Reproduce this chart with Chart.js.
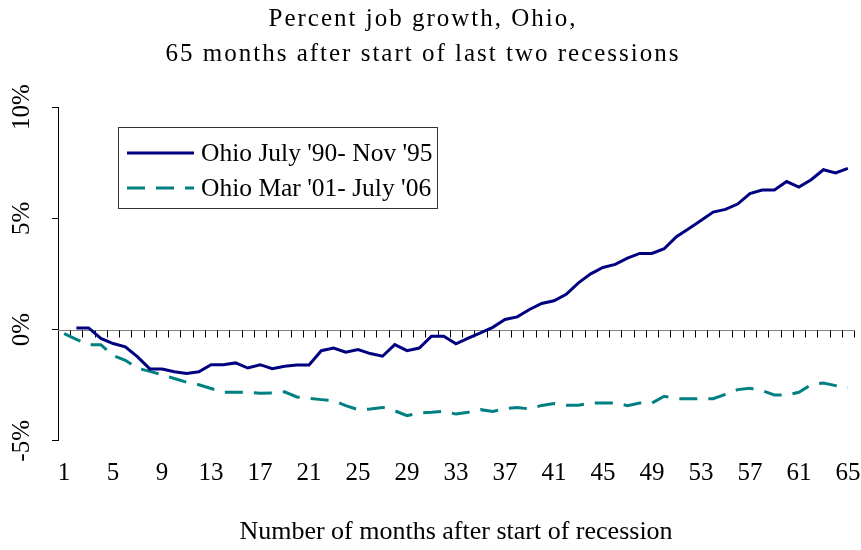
<!DOCTYPE html>
<html>
<head>
<meta charset="utf-8">
<script src="https://cdn.jsdelivr.net/npm/chart.js@4.4.1/dist/chart.umd.min.js"></script>
<style>
  html, body { margin: 0; padding: 0; background: #fff; }
  #wrap { width: 861px; height: 550px; }
</style>
</head>
<body>
<div id="wrap"><canvas id="chart"></canvas></div>
<script>
// Months after start of recession
const months = [1, 2, 3, 4, 5, 6, 7, 8, 9, 10, 11, 12, 13, 14, 15, 16, 17, 18, 19, 20,
  21, 22, 23, 24, 25, 26, 27, 28, 29, 30, 31, 32, 33, 34, 35, 36, 37, 38, 39, 40,
  41, 42, 43, 44, 45, 46, 47, 48, 49, 50, 51, 52, 53, 54, 55, 56, 57, 58, 59, 60,
  61, 62, 63, 64, 65];

// Percent job growth, Ohio July '90 - Nov '95 (no value for month 1)
const ohio1990 = [null, 0.07, 0.07, -0.40, -0.63, -0.78, -1.23, -1.77, -1.77, -1.90,
  -1.98, -1.90, -1.58, -1.58, -1.50, -1.73, -1.58, -1.76, -1.65, -1.59,
  -1.59, -0.95, -0.83, -1.02, -0.90, -1.08, -1.20, -0.68, -0.95, -0.83,
  -0.30, -0.30, -0.64, -0.39, -0.15, 0.10, 0.45, 0.57, 0.90, 1.17,
  1.29, 1.58, 2.10, 2.50, 2.79, 2.93, 3.21, 3.42, 3.42, 3.63,
  4.17, 4.53, 4.90, 5.28, 5.40, 5.64, 6.11, 6.27, 6.27, 6.65,
  6.40, 6.73, 7.18, 7.04, 7.24];

// Percent job growth, Ohio Mar '01 - July '06
const ohio2001 = [-0.18, -0.44, -0.69, -0.68, -1.17, -1.38, -1.74, -1.88, -2.03, -2.20,
  -2.37, -2.48, -2.65, -2.82, -2.82, -2.82, -2.86, -2.85, -2.80, -3.03,
  -3.09, -3.15, -3.20, -3.42, -3.60, -3.57, -3.50, -3.65, -3.87, -3.75,
  -3.72, -3.67, -3.80, -3.72, -3.60, -3.68, -3.56, -3.50, -3.57, -3.41,
  -3.33, -3.40, -3.40, -3.30, -3.30, -3.30, -3.42, -3.30, -3.30, -3.00,
  -3.11, -3.11, -3.11, -3.11, -2.91, -2.70, -2.64, -2.75, -2.94, -2.94,
  -2.82, -2.48, -2.40, -2.52, -2.60];

const yTicks = [-5, 0, 5, 10];
const titleLines = ['Percent job growth, Ohio,', '65 months after start of last two recessions'];
const serif = "'Liberation Serif', 'Times New Roman', serif";

// Titles, rotated y labels, zero axis with ticks and the boxed legend
const decor = {
    id: 'decor',
    beforeDatasetsDraw(chart) {
        const { ctx, chartArea, scales: { x, y } } = chart;
        const y0 = Math.round(y.getPixelForValue(0)) + 0.5;
        ctx.save();
        ctx.strokeStyle = '#808080';
        ctx.lineWidth = 1;
        ctx.beginPath();
        ctx.moveTo(chartArea.left, y0);
        ctx.lineTo(chartArea.right, y0);
        ctx.stroke();
        ctx.strokeStyle = '#000';
        ctx.beginPath();
        for (let i = 1; i <= months.length; i++) {
            const px = i < months.length
                ? (x.getPixelForValue(i - 1) + x.getPixelForValue(i)) / 2
                : chartArea.right;
            const xx = Math.round(px) + 0.5;
            ctx.moveTo(xx, y0);
            ctx.lineTo(xx, y0 + 7);
        }
        ctx.stroke();
        ctx.restore();
    },
    afterDraw(chart) {
        const { ctx, scales: { y } } = chart;
        ctx.save();
        ctx.fillStyle = '#000';

        // title
        ctx.font = '25px ' + serif;
        ctx.letterSpacing = '2px';
        ctx.textAlign = 'center';
        ctx.textBaseline = 'alphabetic';
        ctx.fillText(titleLines[0], 423, 26);
        ctx.fillText(titleLines[1], 423, 61);
        ctx.letterSpacing = '0px';

        // y tick labels, rotated
        ctx.font = '25px ' + serif;
        ctx.textBaseline = 'middle';
        yTicks.forEach(v => {
            ctx.save();
            ctx.translate(22, y.getPixelForValue(v));
            ctx.rotate(-Math.PI / 2);
            ctx.fillText(v + '%', 0, 0);
            ctx.restore();
        });

        // legend
        ctx.strokeStyle = '#333';
        ctx.lineWidth = 1;
        ctx.strokeRect(118.5, 127.5, 319, 81);
        const rows = [153, 188];
        chart.data.datasets.forEach((ds, i) => {
            ctx.strokeStyle = ds.borderColor;
            ctx.lineWidth = 3;
            ctx.setLineDash(ds.borderDash || []);
            ctx.beginPath();
            ctx.moveTo(127, rows[i]);
            ctx.lineTo(194, rows[i]);
            ctx.stroke();
            ctx.setLineDash([]);
            ctx.textAlign = 'left';
            ctx.fillStyle = '#000';
            ctx.font = '25.5px ' + serif;
            ctx.fillText(ds.label, 201, rows[i] + 1);
        });
        ctx.restore();
    }
};

new Chart(document.getElementById('chart'), {
    type: 'line',
    data: {
        labels: months,
        datasets: [
            {
                label: "Ohio July '90- Nov '95",
                data: ohio1990,
                borderColor: '#000080',
                borderWidth: 3,
                pointRadius: 0,
                tension: 0,
                fill: false
            },
            {
                label: "Ohio Mar '01- July '06",
                data: ohio2001,
                borderColor: '#008080',
                borderWidth: 3,
                borderDash: [18, 11],
                pointRadius: 0,
                tension: 0,
                fill: false
            }
        ]
    },
    options: {
        responsive: true,
        maintainAspectRatio: false,
        animation: false,
        layout: { padding: { left: 52, right: 7, top: 107, bottom: 2 } },
        plugins: {
            legend: { display: false },
            title: { display: false },
            tooltip: { enabled: false }
        },
        scales: {
            x: {
                type: 'category',
                offset: true,
                grid: { display: false, drawTicks: false },
                border: { display: false },
                ticks: {
                    autoSkip: false,
                    maxRotation: 0,
                    padding: 18,
                    color: '#000',
                    font: { family: serif, size: 25 },
                    callback: (v, i) => (i % 4 === 0 ? months[i] : '')
                },
                title: {
                    display: true,
                    text: 'Number of months after start of recession',
                    color: '#000',
                    font: { family: serif, size: 26 },
                    padding: { top: 10, bottom: 0 }
                },
                // labels sit well inside the plot width, so no side padding is needed
                afterFit(scale) {
                    scale.paddingLeft = 0;
                    scale.paddingRight = 0;
                }
            },
            y: {
                min: -5,
                max: 10,
                ticks: { display: false, stepSize: 5 },
                grid: { drawOnChartArea: false, tickLength: 6, color: '#000' },
                border: { color: '#000', width: 1 }
            }
        }
    },
    plugins: [decor]
});
</script>
</body>
</html>
